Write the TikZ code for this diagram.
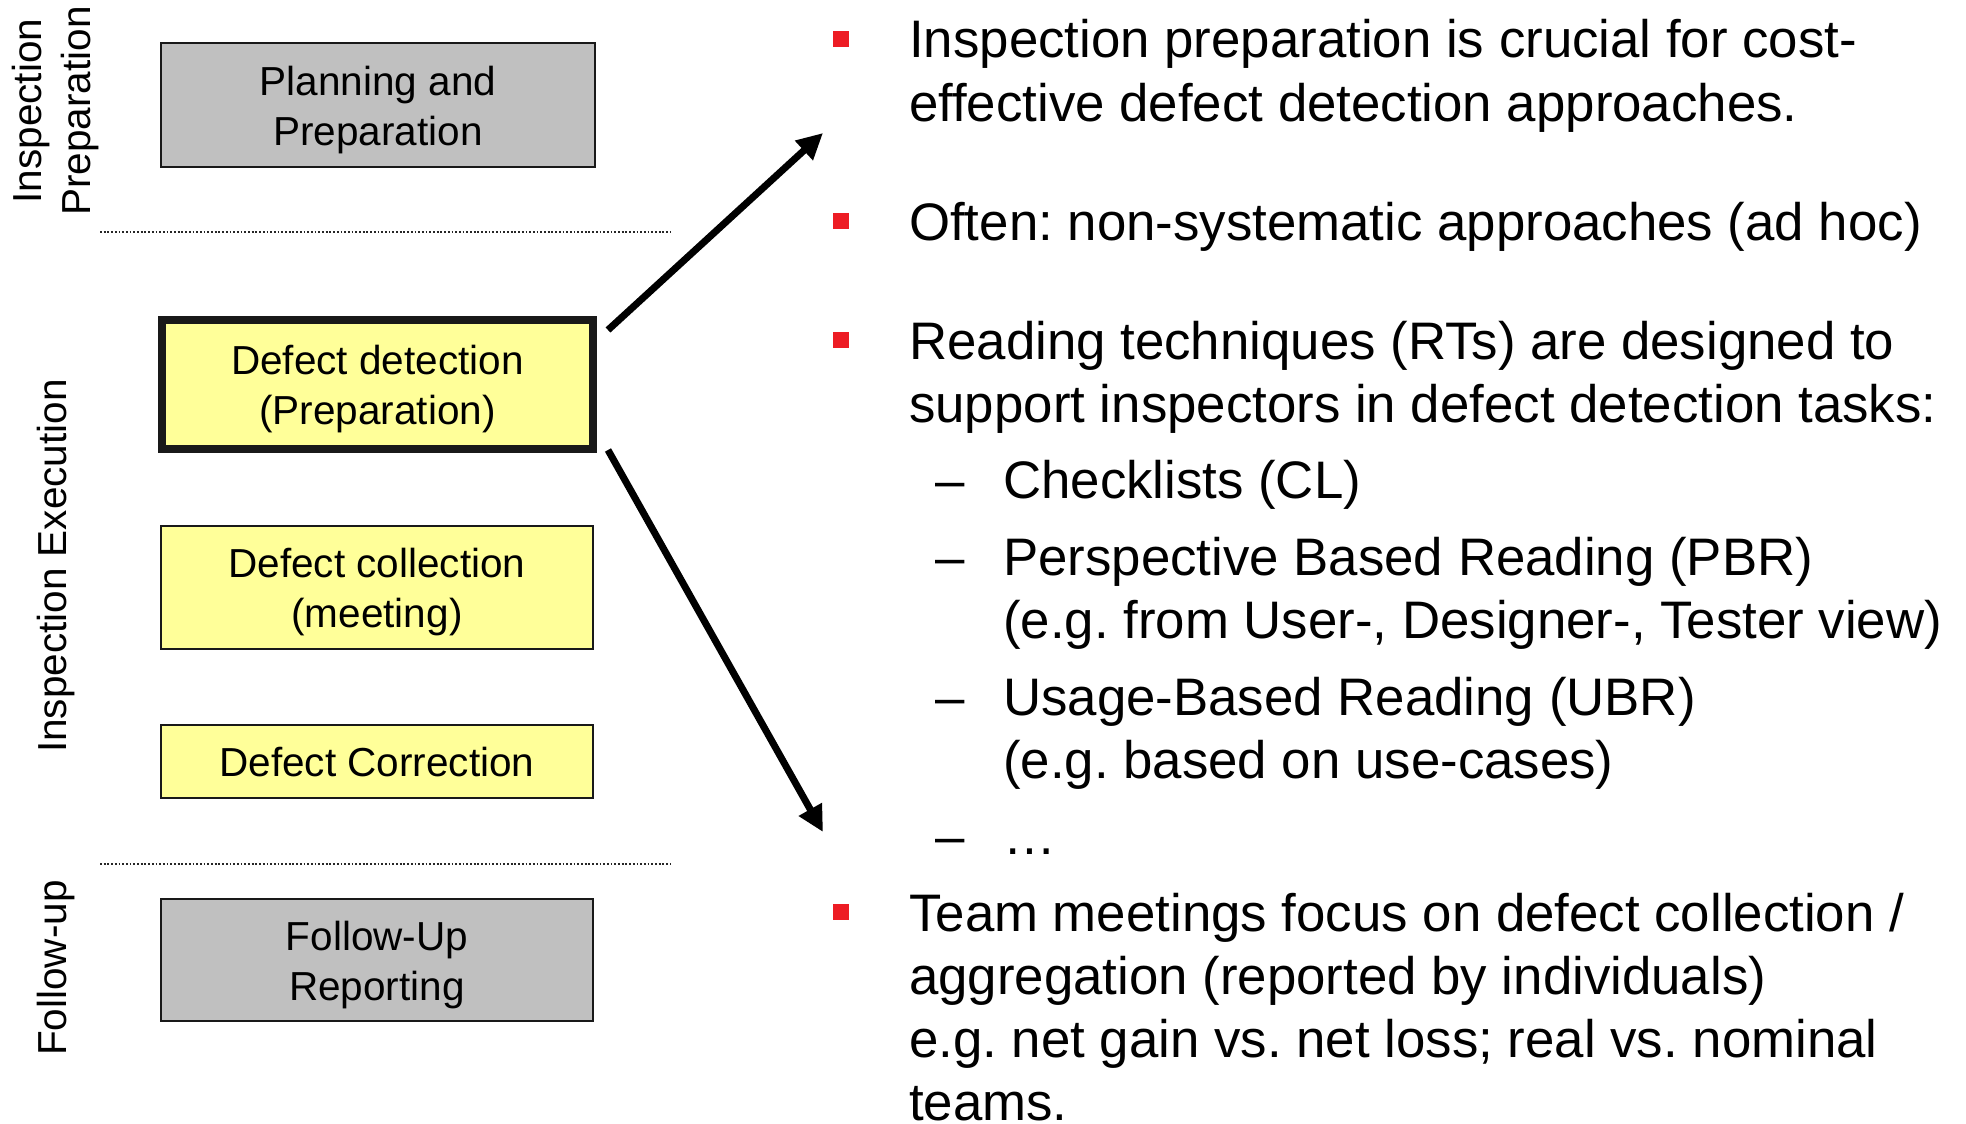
\documentclass[tikz,border=0pt]{standalone}
\usepackage{fontspec}
\setmainfont{Liberation Sans}
\usetikzlibrary{arrows.meta}
\definecolor{boxgray}{HTML}{C0C0C0}
\definecolor{boxyellow}{HTML}{FFFF99}
\definecolor{bulletred}{HTML}{ED1C24}
\frenchspacing
\begin{document}
\frenchspacing
\begin{tikzpicture}[x=1pt,y=-1pt,
  phasebox/.style={draw=black!90, line width=1.8pt, inner sep=0pt, outer sep=0pt},
  grayphase/.style={phasebox, fill=boxgray},
  yellowphase/.style={phasebox, fill=boxyellow},
  phasetext/.style={align=center, inner sep=0pt, font=\fontsize{40.5}{50}\selectfont},
  sidelabel/.style={rotate=90, align=center, inner sep=0pt, font=\fontsize{40.5}{49}\selectfont},
  sepline/.style={line width=1.5pt, black!85, dash pattern=on 1.8pt off 1.9pt},
  bigarrow/.style={line width=7pt, -{Triangle[length=26pt,width=25pt]}},
  bulletsq/.style={fill=bulletred, minimum size=16pt, inner sep=0pt, outer sep=0pt},
  txtline/.style={anchor=base west, inner sep=0pt, font=\fontsize{52.8}{63.4}\selectfont},
]
\useasboundingbox (0,0) rectangle (1966,1124);

% phase labels on the left
\node[sidelabel] (lprep) at (56,111) {Inspection\\Preparation};
\node[sidelabel] (lexec) at (56,566) {Inspection Execution};
\node[sidelabel] (lfollow) at (56,968) {Follow-up};

% separators between phases
\draw[sepline] (100,232) -- (670,232);
\draw[sepline] (100,864) -- (670,864);

% activity boxes
\node[grayphase, minimum width=434pt, minimum height=124pt] (plan) at (378,105) {};
\node[yellowphase, line width=8pt, minimum width=431pt, minimum height=129pt] (det) at (377.5,384.5) {};
\node[yellowphase, minimum width=432pt, minimum height=123pt] (coll) at (377,587.5) {};
\node[yellowphase, minimum width=432pt, minimum height=73pt] (corr) at (377,761.5) {};
\node[grayphase, minimum width=432pt, minimum height=122pt] (follow) at (377,960) {};

% box captions
\node[phasetext] (plantxt) at ([yshift=-5pt]plan.center) {Planning and\\Preparation};
\node[phasetext] (dettxt) at ([yshift=-5pt]det.center) {Defect detection\\(Preparation)};
\node[phasetext] (colltxt) at ([yshift=-5pt]coll.center) {Defect collection\\(meeting)};
\node[phasetext] (corrtxt) at ([yshift=-1pt]corr.center) {Defect Correction};
\node[phasetext] (followtxt) at ([yshift=-5pt]follow.center) {Follow-Up\\Reporting};

% arrows fanning out from the detection step
\coordinate (tipA) at (823,133);
\coordinate (tipB) at (823,832);
\draw[bigarrow] ([xshift=15pt,yshift=-10pt]det.north east) -- (tipA);
\draw[bigarrow] ([xshift=15pt,yshift=-1pt]det.south east) -- (tipB);

% bullet markers
\node[bulletsq] (b1) at (841,39) {};
\node[bulletsq] (b2) at (841,221) {};
\node[bulletsq] (b3) at (841,340) {};
\node[bulletsq] (b4) at (841,912) {};

% bullet text
\node[txtline] (t1) at (909,58) {Inspection preparation is crucial for cost-};
\node[txtline] (t2) at (909,121.4) {effective defect detection approaches.};
\node[txtline] (t3) at (909,240) {Often: non-systematic approaches (ad hoc)};
\node[txtline] (t4) at (909,359) {Reading techniques (RTs) are designed to};
\node[txtline] (t5) at (909,422.4) {support inspectors in defect detection tasks:};
\node[txtline] (d1) at (935,498) {–};
\node[txtline] (s1) at (1003,498) {Checklists (CL)};
\node[txtline] (d2) at (935,575) {–};
\node[txtline] (s2) at (1003,575) {Perspective Based Reading (PBR)};
\node[txtline] (s2b) at (1003,638.4) {(e.g. from User-, Designer-, Tester view)};
\node[txtline] (d3) at (935,715) {–};
\node[txtline] (s3) at (1003,715) {Usage-Based Reading (UBR)};
\node[txtline] (s3b) at (1003,778.4) {(e.g. based on use-cases)};
\node[txtline] (d4) at (935,854) {–};
\node[txtline] (s4) at (1003,854) {…};
\node[txtline] (t6) at (909,931) {Team meetings focus on defect collection /};
\node[txtline] (t7) at (909,994.4) {aggregation (reported by individuals)};
\node[txtline] (t8) at (909,1057.8) {e.g. net gain vs. net loss; real vs. nominal};
\node[txtline] (t9) at (909,1120) {teams.};
\end{tikzpicture}
\end{document}
